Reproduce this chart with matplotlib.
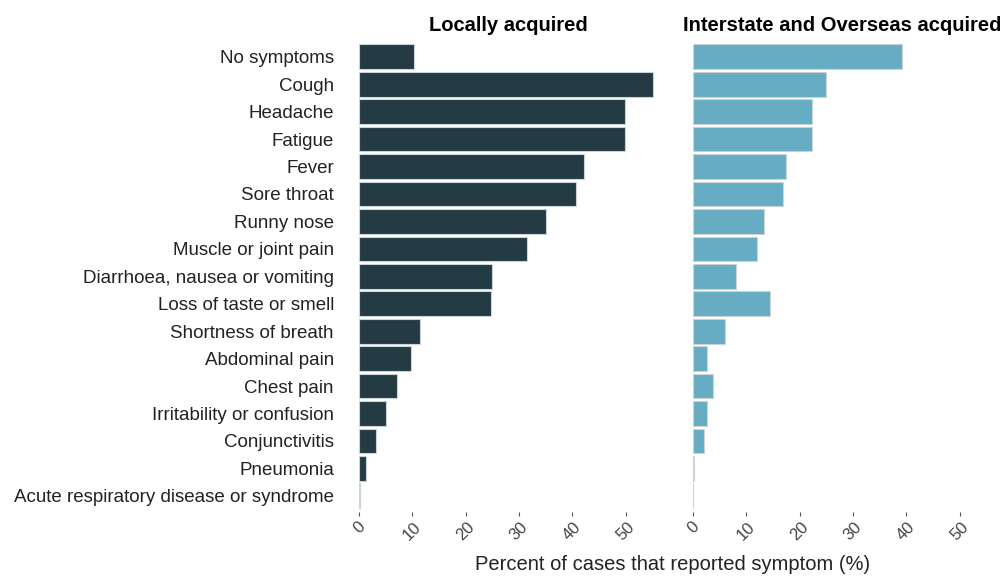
import matplotlib
matplotlib.use("Agg")
import matplotlib.pyplot as plt
import numpy as np

plt.rcParams['font.family'] = ['Liberation Sans', 'DejaVu Sans']

# symptoms, top to bottom
symptoms = ["No symptoms", "Cough", "Headache", "Fatigue", "Fever", "Sore throat",
            "Runny nose", "Muscle or joint pain", "Diarrhoea, nausea or vomiting",
            "Loss of taste or smell", "Shortness of breath", "Abdominal pain",
            "Chest pain", "Irritability or confusion", "Conjunctivitis", "Pneumonia",
            "Acute respiratory disease or syndrome"]

# percent of cases reporting each symptom
local_pct = [10.3, 55.1, 49.9, 49.9, 42.2, 40.7, 35.0, 31.5, 25.0, 24.7,
             11.4, 9.7, 7.1, 5.1, 3.2, 1.4, 0.1]
overseas_pct = [39.3, 25.0, 22.4, 22.4, 17.5, 16.9, 13.4, 12.1, 8.0, 14.4,
                6.0, 2.6, 3.75, 2.6, 2.0, 0.25, 0.0]

panel_titles = ["Locally acquired", "Interstate and Overseas acquired"]
tick_vals = [0, 10, 20, 30, 40, 50]

DARK = "#243b44"
LIGHT = "#66adc4"

fig = plt.figure(figsize=(10, 5.76), dpi=100)
ax1 = fig.add_axes([0.359, 0.1106, 0.2985, 0.8194])
ax2 = fig.add_axes([0.693, 0.1106, 0.2985, 0.8194])

y = np.arange(len(symptoms))

for ax, vals, col, title in [(ax1, local_pct, DARK, panel_titles[0]),
                             (ax2, overseas_pct, LIGHT, panel_titles[1])]:
    ax.barh(y, vals, height=0.9, color=col, edgecolor="#c9d3d8", linewidth=0.8)
    ax.set_xlim(0, 56)
    ax.set_ylim(16.6, -0.6)
    for s in ax.spines.values():
        s.set_visible(False)
    ax.set_xticks(tick_vals)
    ax.set_xticklabels([str(t) for t in tick_vals], rotation=45, color="#444444",
                       fontsize=12)
    ax.tick_params(axis="x", length=3, color="#555555", pad=2)
    ax.tick_params(axis="y", length=0)
    ax.set_title(title, fontweight="bold", fontsize=14.5, pad=7)

ax1.set_yticks(y)
ax1.set_yticklabels(symptoms, fontsize=13.5, color="#222222")
ax1.tick_params(axis="y", pad=18)
ax2.set_yticks([])

fig.text(0.673, 0.003, "Percent of cases that reported symptom (%)",
         ha="center", va="bottom", fontsize=14.5, color="#222222")

fig.savefig("out.png", dpi=100)
